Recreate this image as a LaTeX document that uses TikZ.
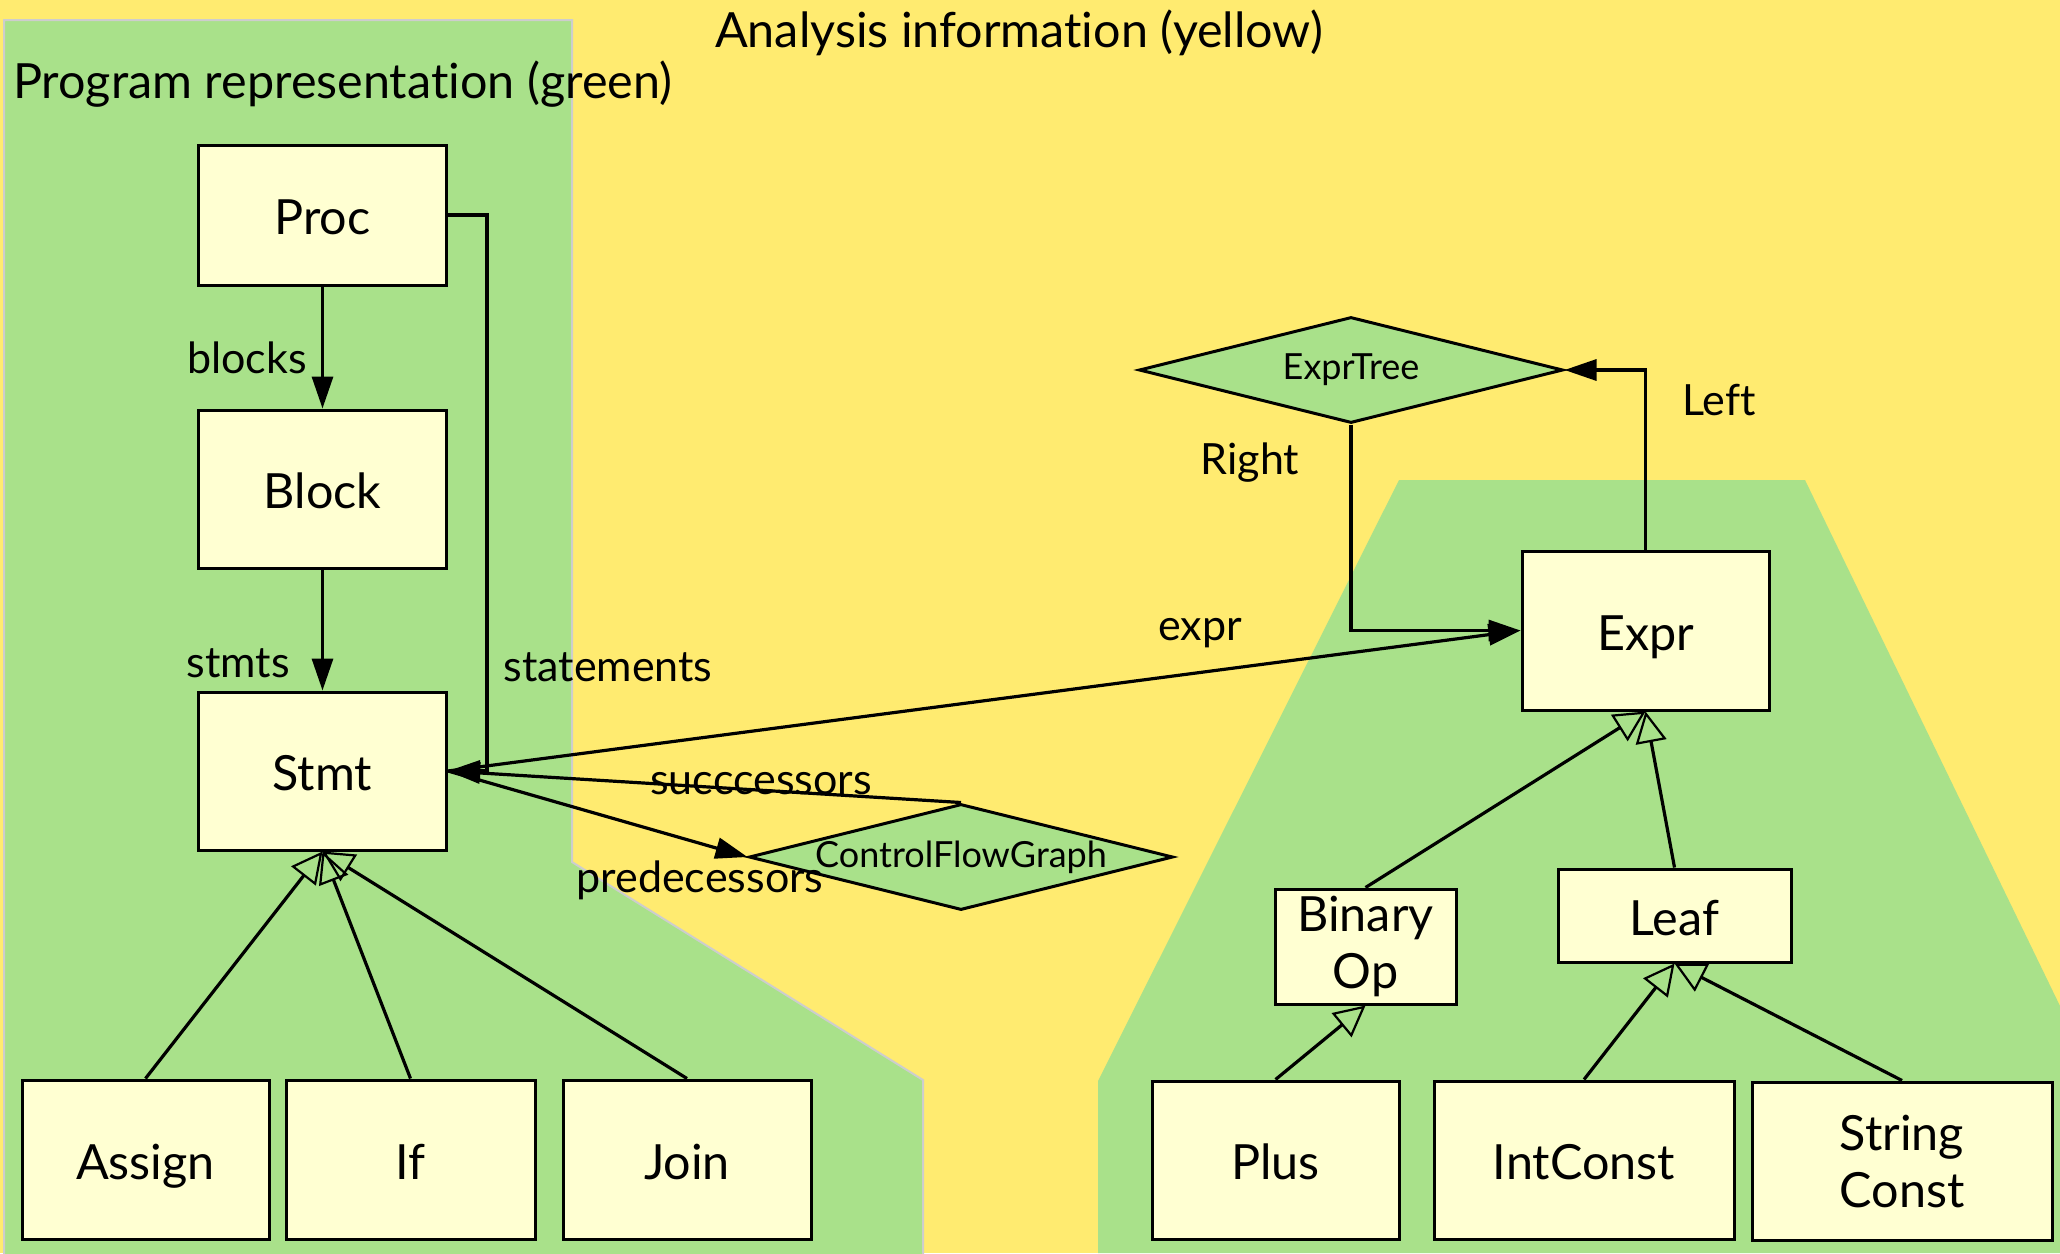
\documentclass[tikz,border=0pt]{standalone}
\usepackage{fontspec}
\setmainfont{Lato}[Ligatures=NoCommon]
\usetikzlibrary{arrows.meta,shapes.geometric}
\definecolor{bgyellow}{RGB}{255,235,112}
\definecolor{pgreen}{RGB}{169,225,138}
\definecolor{boxfill}{RGB}{255,255,210}
\definecolor{edgegray}{RGB}{205,205,205}
\begin{document}
\begin{tikzpicture}[x=1pt,y=-1pt,
  box/.style={draw=black, line width=3pt, fill=boxfill, inner sep=0pt, align=center,
    font=\fontsize{48.5}{57}\selectfont},
  one/.style={box, text height=39pt, text depth=0pt},
  dia/.style={diamond, draw=black, line width=3pt, fill=pgreen, aspect=4,
    minimum width=424pt, minimum height=106pt, inner sep=0pt,
    font=\fontsize{36}{42}\selectfont},
  lbl/.style={font=\fontsize{43}{52}\selectfont, inner sep=0pt, anchor=base},
  ttl/.style={font=\fontsize{48.5}{57}\selectfont, inner sep=0pt, anchor=base},
  assoc/.style={line width=3.2pt, -{Triangle[length=32pt,width=21pt]}},
  inh/.style={line width=3.2pt, -{Triangle[open,length=31pt,width=31pt,line width=2.2pt]}}
]
\useasboundingbox (0,0) rectangle (2060,1253);
\fill[bgyellow] (0,0) rectangle (2060,1253);
% panels
\filldraw[fill=pgreen, draw=edgegray, line width=2pt]
  (4,20) -- (572,20) -- (572,862) -- (923,1080) -- (923,1256) -- (4,1256) -- cycle;
\fill[pgreen]
  (1399,480) -- (1805,480) -- (2060,1006) -- (2060,1253) -- (1098,1253) -- (1098,1081) -- cycle;
% titles
\node[ttl] (tana) at (1019,47) {Analysis information (yellow)};
\node[ttl, anchor=base west] (tprog) at (13,98) {Program representation (green)};
% boxes
\node[one, minimum width=248pt, minimum height=140pt] (Proc) at (322.5,215) {Proc};
\node[one, minimum width=248pt, minimum height=158pt] (Block) at (322.5,489) {Block};
\node[one, minimum width=248pt, minimum height=158pt] (Stmt) at (322.5,771) {Stmt};
\node[one, minimum width=247pt, minimum height=159pt] (Assign) at (145.5,1159.5) {Assign};
\node[one, minimum width=249pt, minimum height=159pt] (If) at (410.5,1159.5) {If};
\node[one, minimum width=248pt, minimum height=159pt] (Join) at (687,1159.5) {Join};
\node[one, minimum width=247pt, minimum height=159pt] (Expr) at (1645.5,630.5) {Expr};
\node[box, minimum width=181pt, minimum height=115pt] (BinOp) at (1365.5,946.5) {Binary\\Op};
\node[one, minimum width=233pt, minimum height=93pt] (Leaf) at (1674.5,915.5) {Leaf};
\node[one, minimum width=247pt, minimum height=158pt] (Plus) at (1275.5,1160) {Plus};
\node[one, minimum width=300pt, minimum height=158pt] (IntConst) at (1584,1160) {IntConst};
\node[box, minimum width=300pt, minimum height=158pt] (StrConst) at (1902,1161) {String\\Const};
% diamonds
\node[dia] (ExprTree) at (1351,370) {ExprTree};
\node[dia] (CFG) at (961,857) {ControlFlowGraph};
% associations
\draw[assoc] (Proc.south) -- (Block.north);
\draw[assoc] (Block.south) -- (Stmt.north);
\draw[assoc] (Proc.east) -- ++(39,0) |- (Stmt.east);
\draw[assoc] (Stmt.east) -- (Expr.west);
\draw[assoc] (ExprTree.south) |- (Expr.west);
\draw[assoc] (Expr.north) |- (ExprTree.east);
\draw[assoc] (CFG.north) -- (Stmt.east);
\draw[assoc] (Stmt.east) -- (CFG.west);
% inheritance
\draw[inh] (Assign.north) -- (Stmt.south);
\draw[inh] (If.north) -- (Stmt.south);
\draw[inh] (Join.north) -- (Stmt.south);
\draw[inh] (BinOp.north) -- (Expr.south);
\draw[inh] (Leaf.north) -- (Expr.south);
\draw[inh] (Plus.north) -- (BinOp.south);
\draw[inh] (IntConst.north) -- (Leaf.south);
\draw[inh] (StrConst.north) -- (Leaf.south);
% labels
\node[lbl] (lblocks) at (247,373) {blocks};
\node[lbl] (lstmts) at (238,677) {stmts};
\node[lbl] (lstatements) at (608,681) {statements};
\node[lbl] (lexpr) at (1200,640) {expr};
\node[lbl] (lright) at (1250,474) {Right};
\node[lbl] (lleft) at (1719,415) {Left};
\node[lbl] (lsucc) at (761,794) {succcessors};
\node[lbl] (lpred) at (700,892) {predecessors};
\end{tikzpicture}
\end{document}
